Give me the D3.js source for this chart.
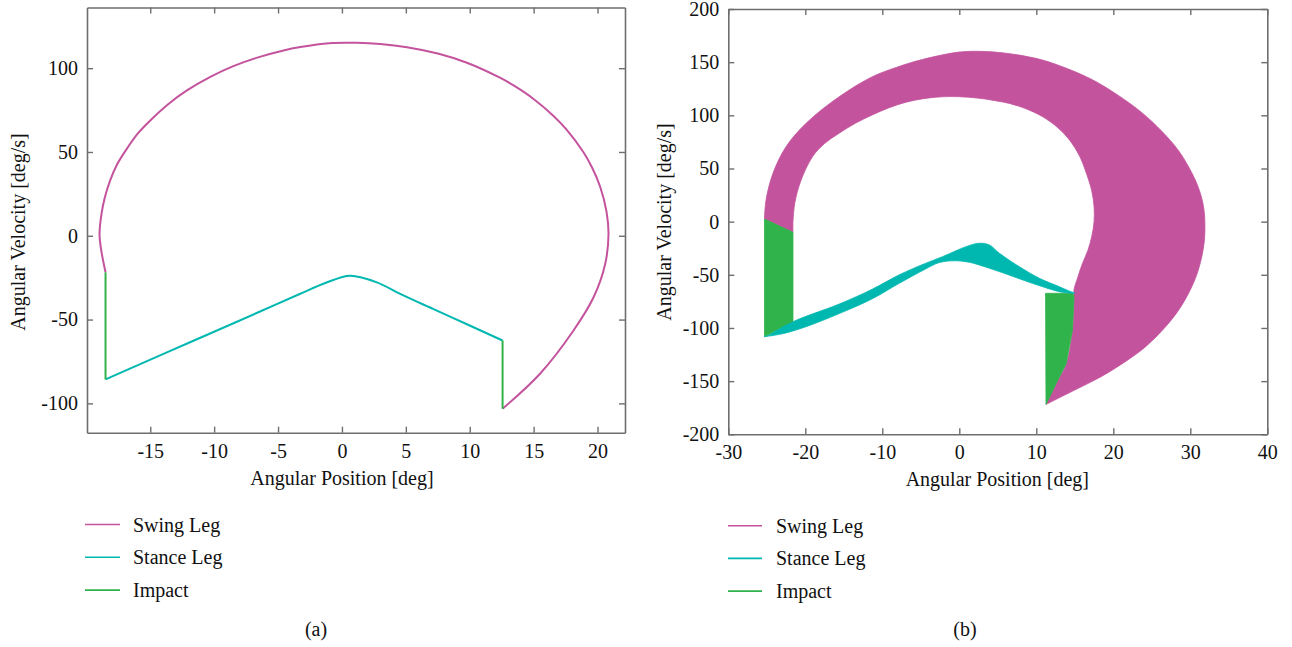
<!DOCTYPE html>
<html><head><meta charset="utf-8">
<script src="https://cdn.jsdelivr.net/npm/d3@7"></script>
<style>
html,body{margin:0;padding:0;background:#fff;}
svg text{font-family:"Liberation Serif","Times New Roman",serif;fill:#111;}
</style></head>
<body>
<svg id="c" width="1292" height="647"></svg>
<script>
// ---------- DATA ----------
const seriesNames = ["Swing Leg", "Stance Leg", "Impact"];
const seriesColors = ["#C4539D", "#00B8B0", "#31B34C"];

// Panel (a): single limit cycle
const ticksXA = [-15, -10, -5, 0, 5, 10, 15, 20];
const ticksYA = [-100, -50, 0, 50, 100];
const domainXA = [-19.95, 22.15];
const domainYA = [-117.5, 136.2];
const swingA = [[12.57,-103.2],[15.5,-82.3],[18.12,-56.5],[19.69,-36.7],[20.6,-16.8],[20.86,1],[20.7,14.6],[20.2,29.4],[19.6,40.3],[18.9,49.8],[17.58,63.3],[16.56,71.5],[14.97,81.8],[13.43,89.7],[12.36,94.3],[9.78,103.2],[7.5,108.7],[5.09,112.5],[3,114.4],[1.17,115.1],[-1,114.9],[-3.26,112.6],[-4.57,110.6],[-6.5,106.6],[-8.5,101.2],[-10.3,94.8],[-12.13,86.7],[-13.6,78.5],[-15,68.8],[-16,60.8],[-16.8,52.3],[-17.6,42.5],[-18.13,33.2],[-18.55,23],[-18.8,13.8],[-18.97,1],[-18.85,-8],[-18.5,-21.8]];
const stanceA = [[-18.5,-85.7],[-13.7,-69.6],[-10.05,-57.4],[-6.5,-45.5],[-3.26,-34.6],[-1.3,-28.2],[0.65,-23.8],[2.74,-27.8],[4.56,-34.7],[7.17,-43.8],[9.78,-52.8],[12.57,-62.5]];
const impactA1 = [[-18.5,-21.8],[-18.5,-85.7]];
const impactA2 = [[12.57,-62.5],[12.57,-103.2]];

// Panel (b): many cycles forming bands (outer / inner envelopes)
const ticksXB = [-30, -20, -10, 0, 10, 20, 30, 40];
const ticksYB = [-200, -150, -100, -50, 0, 50, 100, 150, 200];
const domainXB = [-30, 40];
const domainYB = [-200, 200];
const swingOuterB = [[11.26,-171.9],[14.8,-159],[18.4,-145.9],[21.5,-132],[24.2,-117.6],[26.4,-102],[28.2,-86.2],[29.8,-67],[30.9,-48.6],[31.7,-25],[31.9,-5],[31.7,15],[31,33],[29.9,50],[28.4,67.5],[26.3,85],[23.8,102],[20.7,118.5],[17.3,133.4],[14,144],[10.8,152],[7,157.5],[3.4,160],[0,159.5],[-4.8,152.5],[-8.2,145],[-11.3,136.3],[-15.6,117.5],[-19.9,92.5],[-22.5,70.5],[-24.2,45.5],[-25.1,20.4],[-25.3,2.5]];
const swingInnerB = [[-21.6,-10],[-21.6,0],[-21.35,18],[-20.6,38],[-19.05,61.2],[-17.5,73.5],[-15.6,83.2],[-13.5,92.5],[-11.3,100.4],[-9.1,107.2],[-6.9,112.4],[-4.7,115.6],[-2.6,117.3],[0,117.5],[2.3,116.3],[4.5,114],[6.5,111.2],[8.8,105.8],[10.8,98.8],[12.7,89],[14.3,76.9],[15.6,62],[16.5,45.5],[17.2,29],[17.5,14.1],[17.5,0],[17.2,-14],[16.7,-27],[16.0,-39.2],[15.4,-52],[14.9,-64],[14.9,-70.6],[14.7,-101.9],[13.9,-133.3],[12.6,-152],[11.26,-171.9]];
const impactLeftB = [[-25.3,2.5],[-21.6,-10],[-21.6,-94.1],[-25.3,-108.2]];
const impactRightB = [[11.2,-67.4],[14.8,-67.4],[14.9,-70.6],[14.7,-101.9],[13.9,-133.3],[12.6,-152],[11.26,-171.9]];
const stanceLowerB = [[-25.3,-108.2],[-23,-105.5],[-19.9,-98.8],[-15.6,-86.5],[-11.3,-72.5],[-7.8,-58],[-4.5,-45],[-2.6,-38.5],[-0.5,-36.8],[1.3,-38.2],[2.6,-40.8],[5.2,-47],[9.5,-58],[13,-65.9],[14.8,-67.5]];
const stanceUpperB = [[-24.8,-107],[-21.6,-94.1],[-15.6,-77.5],[-11.3,-63.5],[-7.8,-50],[-4.5,-39.5],[-2.17,-32.9],[0.87,-23.5],[2.6,-20.3],[3.9,-21.9],[5.2,-29.7],[7.8,-42.4],[10.4,-53.3],[13,-61.2],[14.5,-65.9],[15.0,-66.8]];

// ---------- DRAW ----------
const svg = d3.select("#c");
const frameColor = "#6e6e6e";
const fmt = d => String(d);

function panel(opts) {
  const x = d3.scaleLinear().domain(opts.dx).range([opts.left, opts.right]);
  const y = d3.scaleLinear().domain(opts.dy).range([opts.bottom, opts.top]);
  const g = svg.append("g");
  const plot = g.append("g");
  const style = sel => {
    sel.select(".domain").attr("stroke", frameColor).attr("stroke-width", 1.6);
    sel.selectAll(".tick line").attr("stroke", frameColor).attr("stroke-width", 1.4);
    sel.selectAll(".tick text").attr("font-size", 20).attr("font-family", '"Liberation Serif",serif').attr("fill", "#111");
  };
  g.append("g").attr("transform", `translate(0,${opts.bottom})`)
    .call(d3.axisBottom(x).tickValues(opts.tx).tickFormat(fmt).tickSize(-6).tickSizeOuter(0).tickPadding(11)).call(style);
  g.append("g").attr("transform", `translate(0,${opts.top})`)
    .call(d3.axisTop(x).tickValues(opts.tx).tickFormat("").tickSize(-6).tickSizeOuter(0)).call(style);
  g.append("g").attr("transform", `translate(${opts.left},0)`)
    .call(d3.axisLeft(y).tickValues(opts.ty).tickFormat(fmt).tickSize(-6).tickSizeOuter(0).tickPadding(9)).call(style);
  g.append("g").attr("transform", `translate(${opts.right},0)`)
    .call(d3.axisRight(y).tickValues(opts.ty).tickFormat("").tickSize(-6).tickSizeOuter(0)).call(style);
  g.append("text").attr("x", (opts.left + opts.right) / 2 + opts.xtOff).attr("y", opts.bottom + 52)
    .attr("text-anchor", "middle").attr("font-size", 20).text("Angular Position [deg]");
  g.append("text").attr("transform", `translate(${opts.left - opts.ytDist},${opts.ytY}) rotate(-90)`)
    .attr("text-anchor", "middle").attr("font-size", 20).text("Angular Velocity [deg/s]");
  return {x, y, plot, g};
}

// Panel (a)
const A = panel({dx: domainXA, dy: domainYA, left: 87, right: 625, top: 7.5, bottom: 432.7,
  tx: ticksXA, ty: ticksYA, xtOff: -14, ytDist: 62, ytY: 232});
const swingLineA = d3.line().x(d => A.x(d[0])).y(d => A.y(d[1])).curve(d3.curveCatmullRom.alpha(0.5));
const stanceLineA = d3.line().x(d => A.x(d[0])).y(d => A.y(d[1])).curve(d3.curveMonotoneX);
const straightA = d3.line().x(d => A.x(d[0])).y(d => A.y(d[1]));
A.plot.append("path").attr("d", swingLineA(swingA)).attr("fill", "none").attr("stroke", seriesColors[0]).attr("stroke-width", 2);
A.plot.append("path").attr("d", stanceLineA(stanceA)).attr("fill", "none").attr("stroke", seriesColors[1]).attr("stroke-width", 2);
[impactA1, impactA2].forEach(s => A.plot.append("path").attr("d", straightA(s)).attr("fill", "none").attr("stroke", seriesColors[2]).attr("stroke-width", 2));
A.g.raise();

// Panel (b)
const B = panel({dx: domainXB, dy: domainYB, left: 728.3, right: 1267.3, top: 9, bottom: 434.3,
  tx: ticksXB, ty: ticksYB, xtOff: -0.5, ytDist: 57, ytY: 222});
const curveB = d3.line().x(d => B.x(d[0])).y(d => B.y(d[1])).curve(d3.curveCatmullRom.alpha(0.5));
const linB = d3.line().x(d => B.x(d[0])).y(d => B.y(d[1]));
function band(edge1, edge2, reverse2) {
  const e2 = reverse2 ? edge2.slice().reverse() : edge2;
  return curveB(edge1) + curveB(e2).replace(/^M/, "L") + "Z";
}
B.plot.append("path").attr("d", band(swingOuterB, swingInnerB, false))
  .attr("fill", seriesColors[0]).attr("stroke", seriesColors[0]).attr("stroke-width", 0.8);
[impactLeftB, impactRightB].forEach(p => B.plot.append("path").attr("d", linB(p) + "Z")
  .attr("fill", seriesColors[2]).attr("stroke", seriesColors[2]).attr("stroke-width", 0.8));
B.plot.append("path").attr("d", band(stanceLowerB, stanceUpperB, true))
  .attr("fill", seriesColors[1]).attr("stroke", seriesColors[1]).attr("stroke-width", 0.8);
B.g.raise();

// Legends
function legend(x0, y0, step, lineLen, gap) {
  const lg = svg.append("g");
  seriesNames.forEach((n, i) => {
    const yy = y0 + i * step;
    lg.append("line").attr("x1", x0).attr("x2", x0 + lineLen).attr("y1", yy).attr("y2", yy)
      .attr("stroke", seriesColors[i]).attr("stroke-width", 1.6);
    lg.append("text").attr("x", x0 + lineLen + gap).attr("y", yy + 7).attr("font-size", 20).text(n);
  });
}
legend(85, 524.5, 32.8, 35, 13);
legend(728, 525.7, 32.7, 34, 14);

svg.append("text").attr("x", 316).attr("y", 636).attr("text-anchor", "middle").attr("font-size", 20).text("(a)");
svg.append("text").attr("x", 965).attr("y", 636).attr("text-anchor", "middle").attr("font-size", 20).text("(b)");
</script>
</body></html>
